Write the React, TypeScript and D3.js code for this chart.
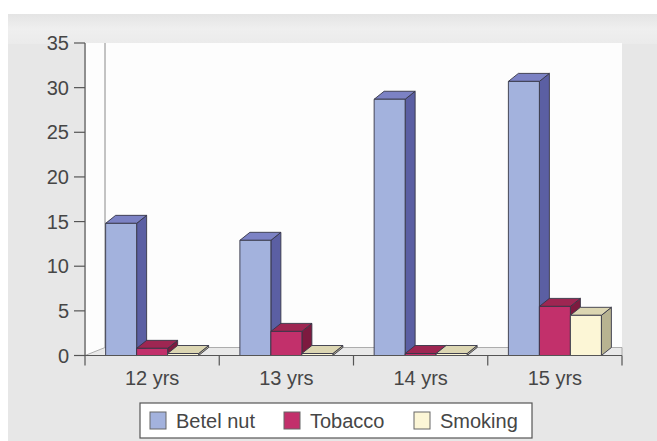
import React from "react";
import * as d3 from "d3";

// Age groups and habit prevalence per group
const categories = ["12 yrs", "13 yrs", "14 yrs", "15 yrs"];
const seriesNames = ["Betel nut", "Tobacco", "Smoking"];
const betelNut = [14.8, 12.9, 28.7, 30.7];
const tobacco = [0.8, 2.7, 0, 5.5];
const smoking = [0, 0, 0, 4.5];
const yTicks = [0, 5, 10, 15, 20, 25, 30, 35];

const seriesValues = [betelNut, tobacco, smoking];

// front, side, top shades for each series
const palette = [
  { front: "#a3b2dd", side: "#5b5fa3", top: "#7c82c4" },
  { front: "#c2306b", side: "#7d1a3f", top: "#9e2652" },
  { front: "#fcf6d6", side: "#b8b391", top: "#dcd6b2" },
];

const W = 657;
const H = 441;
const axisX = 85;
const plotRight = 622;
const depthX = 10;
const depthY = -8;
const wallX = 20;
const wallY = -8;

const font = "'Liberation Sans', Arial, sans-serif";
const textColor = "#464646";

export default function App() {
  const y = d3.scaleLinear().domain([0, 35]).range([355.5, 43]);
  const x = d3.scaleBand<string>().domain(categories).range([axisX, plotRight]).padding(0);
  const groupW = 93;
  const inner = d3.scaleBand<string>().domain(seriesNames).range([0, groupW]).padding(0);

  const bars: JSX.Element[] = [];
  categories.forEach((cat, ci) => {
    const cx = (x(cat) as number) + x.bandwidth() / 2;
    seriesNames.forEach((s, si) => {
      const v = seriesValues[si][ci];
      const x0 = cx - groupW / 2 + (inner(s) as number);
      const w = inner.bandwidth();
      const yb = y(0);
      const yt = Math.min(y(v), yb - 2);
      const c = palette[si];
      const top = `${x0},${yt} ${x0 + w},${yt} ${x0 + w + depthX},${yt + depthY} ${x0 + depthX},${yt + depthY}`;
      const side = `${x0 + w},${yt} ${x0 + w + depthX},${yt + depthY} ${x0 + w + depthX},${yb + depthY} ${x0 + w},${yb}`;
      bars.push(
        <g key={`${cat}-${s}`} stroke="#363646" strokeWidth={0.9} strokeLinejoin="round">
          <polygon points={side} fill={c.side} />
          <polygon points={top} fill={c.top} />
          <rect x={x0} y={yt} width={w} height={yb - yt} fill={c.front} />
        </g>
      );
    });
  });

  const y0 = y(0);

  return (
    <svg width={W} height={H} style={{ position: "absolute", left: 0, top: 0 }}>
      <defs>
        <linearGradient id="topband" x1="0" y1="0" x2="0" y2="1">
          <stop offset="0" stopColor="#e4e4e4" />
          <stop offset="0.5" stopColor="#efefef" />
          <stop offset="1" stopColor="#ebebeb" />
        </linearGradient>
      </defs>
      <rect x={0} y={0} width={W} height={H} fill="#ffffff" />
      {/* outer panel */}
      <rect x={8} y={14} width={W - 8} height={H - 14} fill="#e7e7e7" />
      <rect x={8} y={14} width={W - 8} height={30} fill="url(#topband)" />
      {/* plot area */}
      <rect x={axisX + 1} y={y(35)} width={plotRight - axisX - 1} height={y0 - y(35)} fill="#fdfdfd" />
      {/* back wall edge and floor */}
      <line x1={axisX + wallX} y1={y(35)} x2={axisX + wallX} y2={y0 + wallY} stroke="#8a8a8a" strokeWidth={1} />
      <polygon
        points={`${axisX},${y0} ${axisX + wallX},${y0 + wallY} ${plotRight},${y0 + wallY} ${plotRight},${y0}`}
        fill="#e9e9e9"
        stroke="#9a9a9a"
        strokeWidth={0.8}
      />
      {bars}
      {/* y axis */}
      <line x1={axisX} y1={y(35)} x2={axisX} y2={y0 + 10} stroke="#555" strokeWidth={1.2} />
      {yTicks.map((t) => (
        <g key={t}>
          <line x1={axisX - 11} x2={axisX} y1={y(t)} y2={y(t)} stroke="#555" strokeWidth={1.2} />
          <text
            x={axisX - 16}
            y={y(t)}
            dy="0.36em"
            textAnchor="end"
            fontFamily={font}
            fontSize={20}
            fill={textColor}
          >
            {t}
          </text>
        </g>
      ))}
      {/* x axis */}
      <line x1={axisX} y1={y0} x2={plotRight} y2={y0} stroke="#555" strokeWidth={1.2} />
      {categories.map((c) => (
        <line
          key={`tk-${c}`}
          x1={(x(c) as number) + x.bandwidth()}
          x2={(x(c) as number) + x.bandwidth()}
          y1={y0}
          y2={y0 + 10}
          stroke="#555"
          strokeWidth={1.2}
        />
      ))}
      {categories.map((c) => (
        <text
          key={`lb-${c}`}
          x={(x(c) as number) + x.bandwidth() / 2}
          y={385}
          textAnchor="middle"
          fontFamily={font}
          fontSize={20}
          fill={textColor}
        >
          {c}
        </text>
      ))}
      {/* legend */}
      <rect x={140} y={403} width={392} height={35} fill="#ffffff" stroke="#555" strokeWidth={1.2} />
      {seriesNames.map((s, i) => {
        const lx = [150, 284, 414][i];
        return (
          <g key={`lg-${s}`}>
            <rect x={lx} y={412} width={16} height={17} fill={palette[i].front} stroke="#666" strokeWidth={1} />
            <text x={lx + 26} y={428} fontFamily={font} fontSize={20} fill={textColor}>
              {s}
            </text>
          </g>
        );
      })}
    </svg>
  );
}
